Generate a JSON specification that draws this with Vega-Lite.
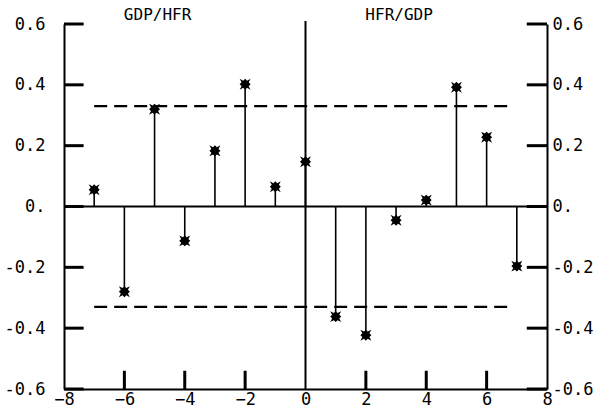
{
  "$schema": "https://vega.github.io/schema/vega-lite/v6.json",
  "width": 483,
  "height": 365,
  "autosize": "none",
  "padding": {"left": 64, "top": 24, "right": 56, "bottom": 27},
  "background": "white",
  "config": {
    "view": {"stroke": null},
    "axis": {
      "domainColor": "black",
      "domainWidth": 2,
      "ticks": false,
      "labelColor": "black",
      "labelFont": "DejaVu Sans Mono",
      "labelFontSize": 17,
      "grid": false,
      "title": null
    }
  },
  "datasets": {
    "ccf": [
      {"lag": -7, "r": 0.055},
      {"lag": -6, "r": -0.28},
      {"lag": -5, "r": 0.32},
      {"lag": -4, "r": -0.113},
      {"lag": -3, "r": 0.183},
      {"lag": -2, "r": 0.402},
      {"lag": -1, "r": 0.065},
      {"lag": 0, "r": 0.147},
      {"lag": 1, "r": -0.362},
      {"lag": 2, "r": -0.423},
      {"lag": 3, "r": -0.045},
      {"lag": 4, "r": 0.021},
      {"lag": 5, "r": 0.392},
      {"lag": 6, "r": 0.228},
      {"lag": 7, "r": -0.196}
    ],
    "bands": [
      {"bound": 0.33},
      {"bound": -0.33}
    ],
    "yticks": [
      {"v": -0.6}, {"v": -0.4}, {"v": -0.2}, {"v": 0}, {"v": 0.2}, {"v": 0.4}, {"v": 0.6}
    ],
    "xticks": [
      {"v": -6}, {"v": -4}, {"v": -2}, {"v": 2}, {"v": 4}, {"v": 6}
    ]
  },
  "resolve": {"axis": {"y": "independent"}},
  "layer": [
    {
      "data": {"name": "ccf"},
      "mark": {"type": "rule", "color": "black", "strokeWidth": 1.6},
      "encoding": {
        "x": {
          "field": "lag", "type": "quantitative",
          "scale": {"domain": [-8, 8], "nice": false, "zero": false},
          "axis": {"values": [-8, -6, -4, -2, 0, 2, 4, 6, 8], "labelPadding": 2, "labelFlush": false}
        },
        "y": {
          "field": "r", "type": "quantitative",
          "scale": {"domain": [-0.6, 0.6], "nice": false, "zero": false},
          "axis": {
            "orient": "left",
            "values": [-0.6, -0.4, -0.2, 0, 0.2, 0.4, 0.6],
            "labelPadding": 19,
            "labelFlush": false,
            "labelExpr": "datum.value == 0 ? '0.' : (datum.value < 0 ? '-' : '') + format(abs(datum.value), '.1f')"
          }
        },
        "y2": {"datum": 0}
      }
    },
    {
      "data": {"name": "ccf"},
      "mark": {"type": "point", "filled": true, "color": "black", "opacity": 1,
        "shape": "M-1,-1L-0.35,-0.65L0,-1L0.35,-0.65L1,-1L0.65,-0.35L1,0L0.65,0.35L1,1L0.35,0.65L0,1L-0.35,0.65L-1,1L-0.65,0.35L-1,0L-0.65,-0.35Z",
        "size": 120},
      "encoding": {
        "x": {"field": "lag", "type": "quantitative"},
        "y": {
          "field": "r", "type": "quantitative",
          "axis": {
            "orient": "right",
            "values": [-0.6, -0.4, -0.2, 0, 0.2, 0.4, 0.6],
            "labelPadding": 5,
            "labelFlush": false,
            "labelExpr": "datum.value == 0 ? '0.' : (datum.value < 0 ? '-' : '') + format(abs(datum.value), '.1f')"
          }
        }
      }
    },
    {
      "data": {"name": "yticks"},
      "mark": {"type": "rule", "color": "#000000", "strokeWidth": 3},
      "encoding": {
        "x": {"datum": -8, "type": "quantitative"},
        "x2": {"datum": -7.35},
        "y": {"field": "v", "type": "quantitative", "axis": null}
      }
    },
    {
      "data": {"name": "yticks"},
      "mark": {"type": "rule", "color": "#000000", "strokeWidth": 3},
      "encoding": {
        "x": {"datum": 7.33, "type": "quantitative"},
        "x2": {"datum": 8},
        "y": {"field": "v", "type": "quantitative", "axis": null}
      }
    },
    {
      "data": {"name": "xticks"},
      "mark": {"type": "rule", "color": "#000000", "strokeWidth": 3},
      "encoding": {
        "x": {"field": "v", "type": "quantitative"},
        "y": {"datum": -0.6, "type": "quantitative", "axis": null},
        "y2": {"datum": -0.54}
      }
    },
    {
      "data": {"values": [{}]},
      "mark": {"type": "rule", "color": "black", "strokeWidth": 2},
      "encoding": {
        "x": {"datum": -8, "type": "quantitative"},
        "x2": {"datum": 8},
        "y": {"datum": 0, "type": "quantitative", "axis": null}
      }
    },
    {
      "data": {"values": [{}]},
      "mark": {"type": "rule", "color": "black", "strokeWidth": 2},
      "encoding": {
        "x": {"datum": 0, "type": "quantitative"},
        "y": {"datum": -0.6, "type": "quantitative", "axis": null},
        "y2": {"datum": 0.61}
      }
    },
    {
      "data": {"name": "bands"},
      "mark": {"type": "rule", "color": "black", "strokeWidth": 2.2, "strokeDash": [13, 7]},
      "encoding": {
        "x": {"datum": -7, "type": "quantitative"},
        "x2": {"datum": 6.8},
        "y": {"field": "bound", "type": "quantitative", "axis": null}
      }
    },
    {
      "data": {"values": [{}]},
      "mark": {"type": "text", "font": "DejaVu Sans Mono", "fontSize": 16, "color": "black", "align": "center", "baseline": "middle", "clip": false},
      "encoding": {
        "x": {"datum": -4.9, "type": "quantitative"},
        "y": {"datum": 0.63, "type": "quantitative", "axis": null},
        "text": {"value": "GDP/HFR"}
      }
    },
    {
      "data": {"values": [{}]},
      "mark": {"type": "text", "font": "DejaVu Sans Mono", "fontSize": 16, "color": "black", "align": "center", "baseline": "middle", "clip": false},
      "encoding": {
        "x": {"datum": 3.1, "type": "quantitative"},
        "y": {"datum": 0.63, "type": "quantitative", "axis": null},
        "text": {"value": "HFR/GDP"}
      }
    }
  ]
}
